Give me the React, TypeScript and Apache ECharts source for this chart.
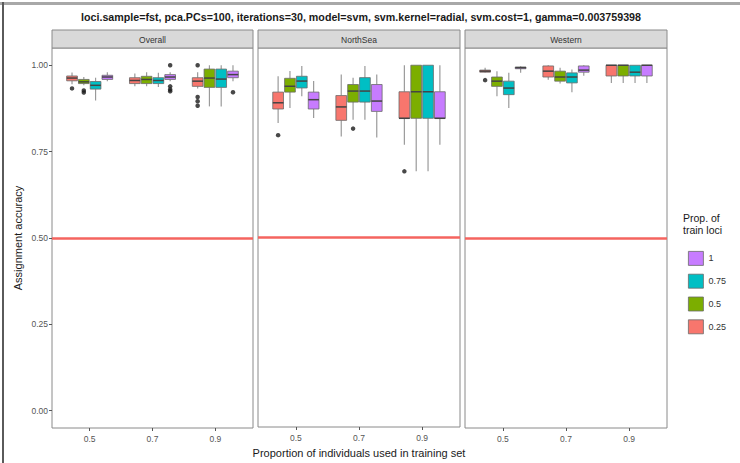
import React, { useEffect, useRef } from "react";
import * as echarts from "echarts";

// ---- data ----
const panels = ["Overall", "NorthSea", "Western"];
const xCategories = ["0.5", "0.7", "0.9"];
const fillLevels = ["0.25", "0.5", "0.75", "1"];
const legendOrder = ["1", "0.75", "0.5", "0.25"];
const fillColors = ["#F8766D", "#7CAE00", "#00BFC4", "#C77CFF"];
const yTicks = [0, 0.25, 0.5, 0.75, 1];
const hlineValue = 0.5;

// [min, Q1, median, Q3, max] for categories 0.5, 0.7, 0.9
const overall_025 = [[0.945, 0.955, 0.963, 0.969, 0.979], [0.939, 0.947, 0.956, 0.964, 0.976], [0.933, 0.939, 0.954, 0.964, 0.98]];
const overall_05 = [[0.942, 0.947, 0.952, 0.959, 0.966], [0.939, 0.947, 0.959, 0.968, 0.98], [0.881, 0.936, 0.963, 0.989, 1.0]];
const overall_075 = [[0.898, 0.931, 0.942, 0.953, 0.964], [0.937, 0.947, 0.956, 0.964, 0.978], [0.881, 0.936, 0.96, 0.989, 1.0]];
const overall_1 = [[0.954, 0.959, 0.966, 0.971, 0.98], [0.954, 0.959, 0.966, 0.973, 0.98], [0.954, 0.964, 0.973, 0.983, 1.0]];

const northsea_025 = [[0.832, 0.873, 0.891, 0.922, 0.968], [0.793, 0.84, 0.879, 0.912, 0.973], [0.769, 0.846, 0.846, 0.923, 1.0]];
const northsea_05 = [[0.876, 0.922, 0.939, 0.962, 0.983], [0.842, 0.893, 0.925, 0.944, 0.964], [0.692, 0.846, 0.923, 1.0, 1.0]];
const northsea_075 = [[0.91, 0.934, 0.954, 0.968, 0.998], [0.842, 0.893, 0.925, 0.964, 0.998], [0.692, 0.846, 0.923, 1.0, 1.0]];
const northsea_1 = [[0.847, 0.873, 0.9, 0.922, 0.954], [0.79, 0.866, 0.896, 0.944, 0.973], [0.769, 0.846, 0.846, 0.923, 1.0]];

const western_025 = [[0.978, 0.98, 0.983, 0.986, 0.993], [0.958, 0.966, 0.983, 0.998, 1.0], [0.949, 0.969, 1.0, 1.0, 1.0]];
const western_05 = [[0.91, 0.939, 0.954, 0.966, 0.983], [0.947, 0.954, 0.966, 0.983, 0.993], [0.949, 0.969, 1.0, 1.0, 1.0]];
const western_075 = [[0.876, 0.915, 0.934, 0.954, 0.978], [0.922, 0.949, 0.966, 0.978, 0.988], [0.949, 0.969, 0.98, 1.0, 1.0]];
const western_1 = [[0.978, 0.99, 0.993, 0.995, 0.997], [0.97, 0.98, 0.986, 0.998, 1.0], [0.949, 0.969, 1.0, 1.0, 1.0]];

// outliers: [categoryIndex, fillIndex, value]
const overall_outliers = [
  [0, 0, 0.933], [0, 1, 0.927], [0, 1, 0.921],
  [1, 3, 1.0], [1, 3, 0.939], [1, 3, 0.93], [1, 3, 0.925],
  [2, 0, 1.0], [2, 0, 0.908], [2, 0, 0.896], [2, 0, 0.883], [2, 3, 0.922],
];
const northsea_outliers = [[0, 0, 0.797], [1, 1, 0.816], [2, 0, 0.692]];
const western_outliers = [[0, 0, 0.957]];

const panelStats = [
  [overall_025, overall_05, overall_075, overall_1],
  [northsea_025, northsea_05, northsea_075, northsea_1],
  [western_025, western_05, western_075, western_1],
];
const panelOutliers = [overall_outliers, northsea_outliers, western_outliers];

// ---- layout ----
const gridLeft = [52, 258, 465];
const gridWidth = [201, 202, 202];
const gridTop = 48;
const gridHeight = 380;
const dodgeStep = 0.1875;
const boxWidth = 0.17;
const FONT = "'Liberation Sans', Arial, sans-serif";

const offsetFor = (f: number) => (f - 1.5) * dodgeStep;

function renderBox(params: any, api: any) {
  const x = api.value(0);
  const lo = api.coord([x, api.value(1)]);
  const q1 = api.coord([x, api.value(2)]);
  const med = api.coord([x, api.value(3)]);
  const q3 = api.coord([x, api.value(4)]);
  const hi = api.coord([x, api.value(5)]);
  const half = api.size([boxWidth, 0])[0] / 2;
  const color = api.visual("color");
  const cx = lo[0];
  return {
    type: "group",
    children: [
      { type: "line", shape: { x1: cx, y1: hi[1], x2: cx, y2: q3[1] }, style: { stroke: "#9a9a9a", lineWidth: 1.2 } },
      { type: "line", shape: { x1: cx, y1: q1[1], x2: cx, y2: lo[1] }, style: { stroke: "#9a9a9a", lineWidth: 1.2 } },
      {
        type: "rect",
        shape: { x: cx - half, y: q3[1], width: half * 2, height: Math.max(q1[1] - q3[1], 0.8) },
        style: { fill: color, stroke: "#6a6a6a", lineWidth: 0.8 },
      },
      { type: "line", shape: { x1: cx - half, y1: med[1], x2: cx + half, y2: med[1] }, style: { stroke: "#444", lineWidth: 1.5 } },
    ],
  };
}

export default function App() {
  const ref = useRef<HTMLDivElement>(null);
  useEffect(() => {
    document.body.style.margin = "0";
    const chart = echarts.init(ref.current!, undefined, { renderer: "svg" });

    const grids = panels.map((_, p) => ({
      left: gridLeft[p], top: gridTop, width: gridWidth[p], height: gridHeight,
      show: true, borderColor: "#8a8a8a", borderWidth: 1, backgroundColor: "#fff",
    }));
    const xAxes = panels.map((_, p) => ({
      gridIndex: p, type: "value", min: 0.4, max: 3.6, position: "bottom",
      axisLine: { show: false, onZero: false }, splitLine: { show: false },
      axisTick: { show: true, customValues: [1, 2, 3], length: 3, lineStyle: { color: "#555" } },
      axisLabel: {
        customValues: [1, 2, 3], formatter: (v: number) => xCategories[Math.round(v) - 1] ?? "",
        fontSize: 8.5, color: "#555", margin: 6, fontFamily: FONT,
      },
      ...(p === 1
        ? { name: "Proportion of individuals used in training set", nameLocation: "middle", nameGap: 20,
            nameTextStyle: { fontSize: 11, color: "#1a1a1a", fontFamily: FONT } }
        : {}),
    }));
    const yAxes = panels.map((_, p) => ({
      gridIndex: p, type: "value", min: -0.05, max: 1.05, position: "left",
      axisLine: { show: false, onZero: false }, splitLine: { show: false },
      axisTick: { show: p === 0, customValues: yTicks, length: 3, lineStyle: { color: "#555" } },
      axisLabel: {
        show: p === 0, customValues: yTicks, formatter: (v: number) => v.toFixed(2),
        fontSize: 8.5, color: "#555", margin: 4, fontFamily: FONT,
      },
      ...(p === 0
        ? { name: "Assignment accuracy", nameLocation: "middle", nameGap: 29,
            nameTextStyle: { fontSize: 11, color: "#1a1a1a", fontFamily: FONT } }
        : {}),
    }));

    const series: any[] = [];
    panels.forEach((_, p) => {
      series.push({
        type: "scatter", name: "outliers", xAxisIndex: p, yAxisIndex: p,
        symbolSize: 4.5, itemStyle: { color: "#1a1a1a" }, z: 5,
        data: panelOutliers[p].map(([g, f, v]) => [g + 1 + offsetFor(f), v]),
        markLine: {
          silent: true, symbol: "none", label: { show: false },
          lineStyle: { color: "#F5645F", width: 2.5, type: "solid" },
          data: [{ yAxis: hlineValue }],
        },
      });
      fillLevels.forEach((lvl, f) => {
        series.push({
          type: "custom", name: lvl, xAxisIndex: p, yAxisIndex: p,
          itemStyle: { color: fillColors[f] }, z: 3,
          encode: { x: 0, y: [1, 2, 3, 4, 5] },
          renderItem: renderBox,
          data: panelStats[p][f].map((s, g) => [g + 1 + offsetFor(f), ...s]),
        });
      });
    });

    const graphics: any[] = [
      { type: "rect", shape: { x: 0, y: 2, width: 740, height: 3 }, style: { fill: "#a8a8a8" } },
      { type: "rect", shape: { x: 2, y: 2, width: 2, height: 461 }, style: { fill: "#5a5a5a" } },
      {
        type: "text", x: 361, y: 17,
        style: {
          text: "loci.sample=fst, pca.PCs=100, iterations=30, model=svm, svm.kernel=radial, svm.cost=1, gamma=0.003759398",
          fontSize: 10.7, fontWeight: "bold", fill: "#1a1a1a", align: "center", verticalAlign: "middle", fontFamily: FONT,
        },
      },
      {
        type: "text", x: 683, y: 224,
        style: { text: "Prop. of\ntrain loci", fontSize: 10.5, lineHeight: 12, fill: "#1a1a1a", align: "left", verticalAlign: "middle", fontFamily: FONT },
      },
    ];
    panels.forEach((name, p) => {
      graphics.push({
        type: "rect", shape: { x: gridLeft[p], y: 30, width: gridWidth[p], height: 18 },
        style: { fill: "#D9D9D9", stroke: "#8a8a8a", lineWidth: 1 },
      });
      graphics.push({
        type: "text", x: gridLeft[p] + gridWidth[p] / 2, y: 39.5,
        style: { text: name, fontSize: 8.5, fill: "#333", align: "center", verticalAlign: "middle", fontFamily: FONT },
      });
    });

    chart.setOption({
      animation: false,
      textStyle: { fontFamily: FONT },
      grid: grids,
      xAxis: xAxes,
      yAxis: yAxes,
      legend: {
        orient: "vertical", left: 683, top: 246, itemWidth: 15, itemHeight: 14, itemGap: 8,
        icon: "rect", data: legendOrder,
        itemStyle: { borderColor: "#6a6a6a", borderWidth: 0.8 },
        textStyle: { fontSize: 9, color: "#333", fontFamily: FONT },
      },
      series,
      graphic: graphics,
    });
    return () => chart.dispose();
  }, []);
  return <div ref={ref} style={{ width: 740, height: 463 }} />;
}
